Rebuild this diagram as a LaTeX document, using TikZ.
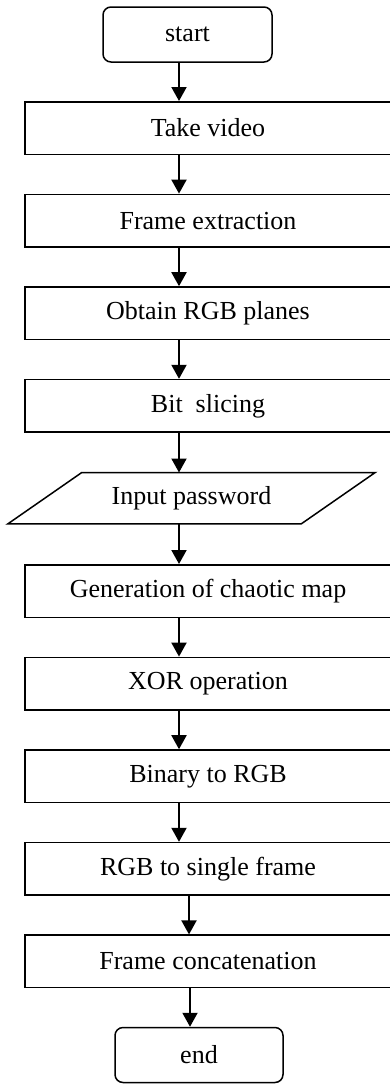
\documentclass[tikz,border=0pt]{standalone}
\usepackage{fontspec}
\setmainfont{Liberation Serif}
\usetikzlibrary{arrows.meta}
\begin{document}
\begin{tikzpicture}[x=1pt,y=-1pt,
  lbl/.style={font=\fontsize{26}{30}\selectfont},
  stepbox/.style={lbl, draw, line width=1.5pt, minimum width=366pt, minimum height=52.5pt, inner sep=0pt},
  termbox/.style={lbl, draw, rounded corners=8pt, line width=1.5pt, minimum height=55pt, inner sep=0pt},
  iobox/.style={lbl, minimum width=293pt, minimum height=51pt, inner sep=0pt},
  flow/.style={-{Triangle[length=14pt,width=15pt]}, line width=2pt}]
\useasboundingbox (0,0) rectangle (390,1084);
\clip (0,0) rectangle (390,1084);

% terminals
\node[termbox, minimum width=169pt] (start) at (187.5,34.5) {start};
\node[termbox, minimum width=168pt] (stop) at (199,1055) {end};

% process steps
\node[stepbox] (b1) at (208,128) {Take video};
\node[stepbox] (b2) at (208,220.6) {Frame extraction};
\node[stepbox] (b3) at (208,313.2) {Obtain RGB planes};
\node[stepbox] (b4) at (208,405.8) {Bit\ \ slicing};
\node[iobox] (pw) at (191.5,498.2) {Input password};
\node[stepbox] (b6) at (208,591) {Generation of chaotic map};
\node[stepbox] (b7) at (208,683.6) {XOR operation};
\node[stepbox] (b8) at (208,776.2) {Binary to RGB};
\node[stepbox] (b9) at (208,868.8) {RGB to single frame};
\node[stepbox] (b10) at (208,961.4) {Frame concatenation};

% input parallelogram
\draw[line width=1.5pt] ([xshift=37pt]pw.north west) -- ([xshift=37pt]pw.north east)
  -- ([xshift=-37pt]pw.south east) -- ([xshift=-37pt]pw.south west) -- cycle;

% arrow columns
\coordinate (ax) at (179,0);
\coordinate (bx) at (189,0);
\coordinate (cx) at (190,0);

\draw[flow] (start.south -| ax) -- (b1.north -| ax);
\draw[flow] (b1.south -| ax) -- (b2.north -| ax);
\draw[flow] (b2.south -| ax) -- (b3.north -| ax);
\draw[flow] (b3.south -| ax) -- (b4.north -| ax);
\draw[flow] (b4.south -| ax) -- (pw.north -| ax);
\draw[flow] (pw.south -| ax) -- (b6.north -| ax);
\draw[flow] (b6.south -| ax) -- (b7.north -| ax);
\draw[flow] (b7.south -| ax) -- (b8.north -| ax);
\draw[flow] (b8.south -| ax) -- (b9.north -| ax);
\draw[flow] (b9.south -| bx) -- (b10.north -| bx);
\draw[flow] (b10.south -| cx) -- (stop.north -| cx);
\end{tikzpicture}
\end{document}
